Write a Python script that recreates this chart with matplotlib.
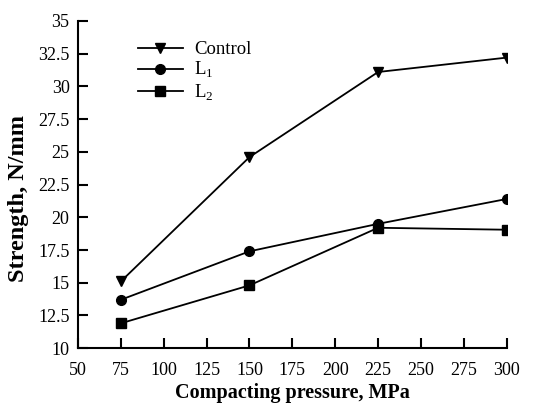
import matplotlib
matplotlib.use("Agg")
import matplotlib.pyplot as plt

pressure = [75, 150, 225, 300]
control = [15.1, 24.6, 31.1, 32.2]
l1 = [13.7, 17.4, 19.5, 21.4]
l2 = [11.9, 14.8, 19.2, 19.05]

plt.rcParams['font.family'] = 'Liberation Serif'
plt.rcParams['mathtext.fontset'] = 'custom'
plt.rcParams['mathtext.rm'] = 'Liberation Serif'

fig = plt.figure(figsize=(5.49, 4.03), dpi=100)
ax = fig.add_axes([0.142, 0.136, 0.781, 0.812])

ax.plot(pressure, control, color='black', lw=1.3, marker='v', ms=7, label='Control')
ax.plot(pressure, l1, color='black', lw=1.3, marker='o', ms=7, label=r'L$_\mathrm{1}$')
ax.plot(pressure, l2, color='black', lw=1.3, marker='s', ms=6.5, label=r'L$_\mathrm{2}$')

ax.set_xlim(50, 300)
ax.set_ylim(10, 35)
ax.set_xticks(range(50, 301, 25))
ax.set_yticks([10, 12.5, 15, 17.5, 20, 22.5, 25, 27.5, 30, 32.5, 35])
ax.set_yticklabels(['10', '12.5', '15', '17.5', '20', '22.5', '25', '27.5', '30', '32.5', '35'])

for s in ['top', 'right']:
    ax.spines[s].set_visible(False)
for s in ['left', 'bottom']:
    ax.spines[s].set_linewidth(1.5)
ax.tick_params(direction='in', length=7, width=1.5, labelsize=13)
ax.tick_params(axis='x', pad=10)
ax.tick_params(axis='y', pad=6)

ax.set_xlabel('Compacting pressure, MPa', fontsize=14.5, fontweight='bold', labelpad=2.5)
ax.set_ylabel('Strength, N/mm', fontsize=17.5, fontweight='bold', labelpad=4)
ax.yaxis.set_label_coords(-0.115, 0.456)

ax.legend(loc='upper left', bbox_to_anchor=(0.10, 0.99), frameon=False, fontsize=13.5,
          handlelength=2.4, labelspacing=0.1, handletextpad=0.6)

fig.savefig('out.png', dpi=100)
